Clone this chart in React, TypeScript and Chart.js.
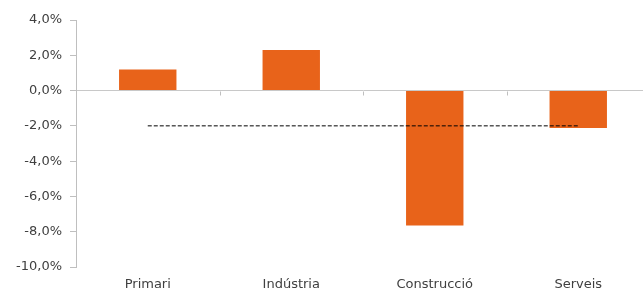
import React, { useEffect, useRef } from "react";
import { Chart, registerables } from "chart.js";

Chart.register(...registerables);

const categories = ["Primari", "Indústria", "Construcció", "Serveis"];
const barValues = [1.2, 2.3, -7.65, -2.12];
const averageValues = [-2.0, -2.0, -2.0, -2.0];
const yMin = -10;
const yMax = 4;
const yStep = 2;

const fmt = (v: number) => v.toFixed(1).replace(".", ",") + "%";

const zeroTicks = {
  id: "zeroTicks",
  afterDatasetsDraw(chart: any) {
    const x = chart.scales.x;
    const y = chart.scales.y;
    const y0 = Math.round(y.getPixelForValue(0)) + 0.5;
    const ctx = chart.ctx;
    ctx.save();
    ctx.strokeStyle = "#bfbfbf";
    ctx.lineWidth = 1;
    ctx.beginPath();
    for (let i = 1; i < categories.length; i++) {
      const px = Math.round((x.getPixelForValue(i - 1) + x.getPixelForValue(i)) / 2) + 0.5;
      ctx.moveTo(px, y0);
      ctx.lineTo(px, y0 + 4);
    }
    ctx.stroke();
    ctx.restore();
  },
};

export default function App() {
  const ref = useRef<HTMLCanvasElement>(null);
  useEffect(() => {
    if (!ref.current) return;
    const font = { family: "'DejaVu Sans', sans-serif", size: 13 };
    const chart = new Chart(ref.current, {
      data: {
        labels: categories,
        datasets: [
          {
            type: "line",
            data: averageValues,
            borderColor: "#000",
            borderWidth: 1,
            borderDash: [4, 2],
            pointRadius: 0,
            fill: false,
            order: 0,
          },
          {
            type: "bar",
            data: barValues,
            backgroundColor: "#E8631A",
            barPercentage: 0.4,
            categoryPercentage: 1,
            order: 1,
          },
        ],
      } as any,
      options: {
        animation: false,
        responsive: false,
        devicePixelRatio: 1,
        layout: { padding: { left: 0, right: 10, top: 20, bottom: 0 } },
        plugins: { legend: { display: false }, tooltip: { enabled: false } },
        scales: {
          x: {
            grid: { display: false, drawTicks: false },
            border: { display: false },
            ticks: { color: "#404040", font, padding: 10 },
            afterFit: (s: any) => {
              s.height = 24;
            },
          },
          y: {
            min: yMin,
            max: yMax,
            ticks: {
              stepSize: yStep,
              color: "#404040",
              font,
              padding: 8,
              callback: (v: any) => fmt(Number(v)),
            },
            grid: {
              color: (c: any) => (c.tick && c.tick.value === 0 ? "#c8c8c8" : "rgba(0,0,0,0)"),
              tickColor: "#bfbfbf",
              tickLength: 6,
              lineWidth: 1,
            },
            border: { display: true, color: "#bfbfbf" },
            afterFit: (s: any) => {
              s.width = 76;
            },
          },
        },
      },
      plugins: [zeroTicks],
    } as any);
    return () => chart.destroy();
  }, []);
  return (
    <div
      style={{
        position: "fixed",
        left: 0,
        top: 0,
        width: 643,
        height: 291,
        overflow: "hidden",
        background: "#fff",
      }}
    >
      <canvas ref={ref} width={660} height={291} style={{ display: "block" }} />
    </div>
  );
}
